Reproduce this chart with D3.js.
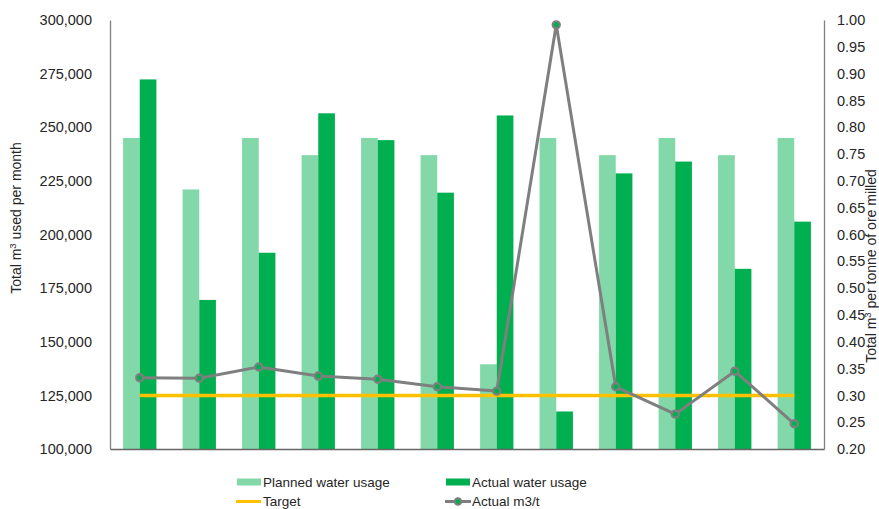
<!DOCTYPE html>
<html><head><meta charset="utf-8">
<script src="https://cdn.jsdelivr.net/npm/d3@7"></script>
<style>
html,body{margin:0;padding:0;background:#fff;}
text{font-family:"Liberation Sans",Arial,sans-serif;fill:#262626;}
</style></head>
<body>
<svg id="chart" width="879" height="509"></svg>
<script>
const categories = ["Jan","Feb","Mar","Apr","May","Jun","Jul","Aug","Sep","Oct","Nov","Dec"];
const planned = [245000,221000,245000,237000,245000,237000,139500,245000,237000,245000,237000,245000];
const actual  = [272300,169500,191500,256500,244000,219500,255500,117500,228500,234000,184000,206000];
const actualM3t = [0.333,0.332,0.353,0.336,0.330,0.316,0.308,0.991,0.316,0.265,0.345,0.247];
const target = 0.30;
const leftTicks = [100000,125000,150000,175000,200000,225000,250000,275000,300000];
const rightTicks = [0.20,0.25,0.30,0.35,0.40,0.45,0.50,0.55,0.60,0.65,0.70,0.75,0.80,0.85,0.90,0.95,1.00];
const seriesNames = ["Planned water usage","Actual water usage","Target","Actual m3/t"];

const colPlanned = "#82D8A9", colActual = "#00B050", colTarget = "#FFC000", colLine = "#7F7F7F";

const svg = d3.select("#chart");
const L = 110, R = 824, T = 20, B = 449;

const x0 = d3.scaleBand().domain(categories).range([L,R]).paddingInner(0.44).paddingOuter(0.22);
const x1 = d3.scaleBand().domain(["planned","actual"]).range([0,x0.bandwidth()]);
const yL = d3.scaleLinear().domain([100000,300000]).range([B,T]);
const yR = d3.scaleLinear().domain([0.2,1.0]).range([B,T]);

// bars
const g = svg.append("g");
categories.forEach((c,i)=>{
  g.append("rect").attr("x",x0(c)+x1("planned")).attr("y",yL(planned[i]))
    .attr("width",x1.bandwidth()).attr("height",B-yL(planned[i])).attr("fill",colPlanned);
  g.append("rect").attr("x",x0(c)+x1("actual")).attr("y",yL(actual[i]))
    .attr("width",x1.bandwidth()).attr("height",B-yL(actual[i])).attr("fill",colActual);
});

// axes
const fmt = d3.format(",");
const axL = svg.append("g").attr("transform",`translate(${L},0)`)
  .call(d3.axisLeft(yL).tickValues(leftTicks).tickFormat(fmt).tickSize(0).tickPadding(18));
const axR = svg.append("g").attr("transform",`translate(${R},0)`)
  .call(d3.axisRight(yR).tickValues(rightTicks).tickFormat(d3.format(".2f")).tickSize(0).tickPadding(13));
[axL,axR].forEach(a=>{
  a.select(".domain").attr("stroke","#808080").attr("stroke-width",1.3);
  a.selectAll("text").style("font-size","14.5px").attr("fill","#262626")
    .style("font-family","'Liberation Sans',Arial,sans-serif");
});
const axB = svg.append("g").attr("transform",`translate(0,${B})`)
  .call(d3.axisBottom(x0).tickSize(0).tickFormat(""));
axB.select(".domain").attr("stroke","#666").attr("stroke-width",1.5);

// target line
const cx = c => x0(c)+x0.bandwidth()/2;
svg.append("line").attr("x1",cx(categories[0])).attr("x2",cx(categories[categories.length-1]))
  .attr("y1",yR(target)).attr("y2",yR(target)).attr("stroke",colTarget).attr("stroke-width",3.5);

// actual m3/t line
const line = d3.line().x((d,i)=>cx(categories[i])).y(d=>yR(d));
svg.append("path").datum(actualM3t).attr("d",line).attr("fill","none")
  .attr("stroke",colLine).attr("stroke-width",3).attr("stroke-linejoin","round");
svg.selectAll("circle.pt").data(actualM3t).enter().append("circle").attr("class","pt")
  .attr("cx",(d,i)=>cx(categories[i])).attr("cy",d=>yR(d)).attr("r",3.6)
  .attr("fill",colActual).attr("stroke",colLine).attr("stroke-width",2.2);

// axis titles
svg.append("text").attr("transform","translate(21,218) rotate(-90)").attr("text-anchor","middle")
  .style("font-size","14px").html('Total m<tspan dy="-5" font-size="9.5px">3</tspan><tspan dy="5"> used per month</tspan>');
svg.append("text").attr("transform","translate(876,266) rotate(-90)").attr("text-anchor","middle")
  .style("font-size","14px").html('Total m<tspan dy="-5" font-size="9.5px">3</tspan><tspan dy="5"> per tonne of ore milled</tspan>');

// legend
const lg = svg.append("g").style("font-size","13.5px");
lg.append("rect").attr("x",237).attr("y",478.5).attr("width",24).attr("height",7).attr("fill",colPlanned);
lg.append("text").attr("x",263).attr("y",487).text(seriesNames[0]);
lg.append("rect").attr("x",446).attr("y",478.5).attr("width",24).attr("height",7).attr("fill",colActual);
lg.append("text").attr("x",472).attr("y",487).text(seriesNames[1]);
lg.append("line").attr("x1",236).attr("x2",261).attr("y1",501.5).attr("y2",501.5).attr("stroke",colTarget).attr("stroke-width",3);
lg.append("text").attr("x",263).attr("y",505.5).text(seriesNames[2]);
lg.append("line").attr("x1",445).attr("x2",471).attr("y1",501.5).attr("y2",501.5).attr("stroke",colLine).attr("stroke-width",3);
lg.append("circle").attr("cx",458).attr("cy",501.5).attr("r",3.3).attr("fill",colActual).attr("stroke",colLine).attr("stroke-width",2);
lg.append("text").attr("x",472).attr("y",505.5).text(seriesNames[3]);
</script>
</body></html>
